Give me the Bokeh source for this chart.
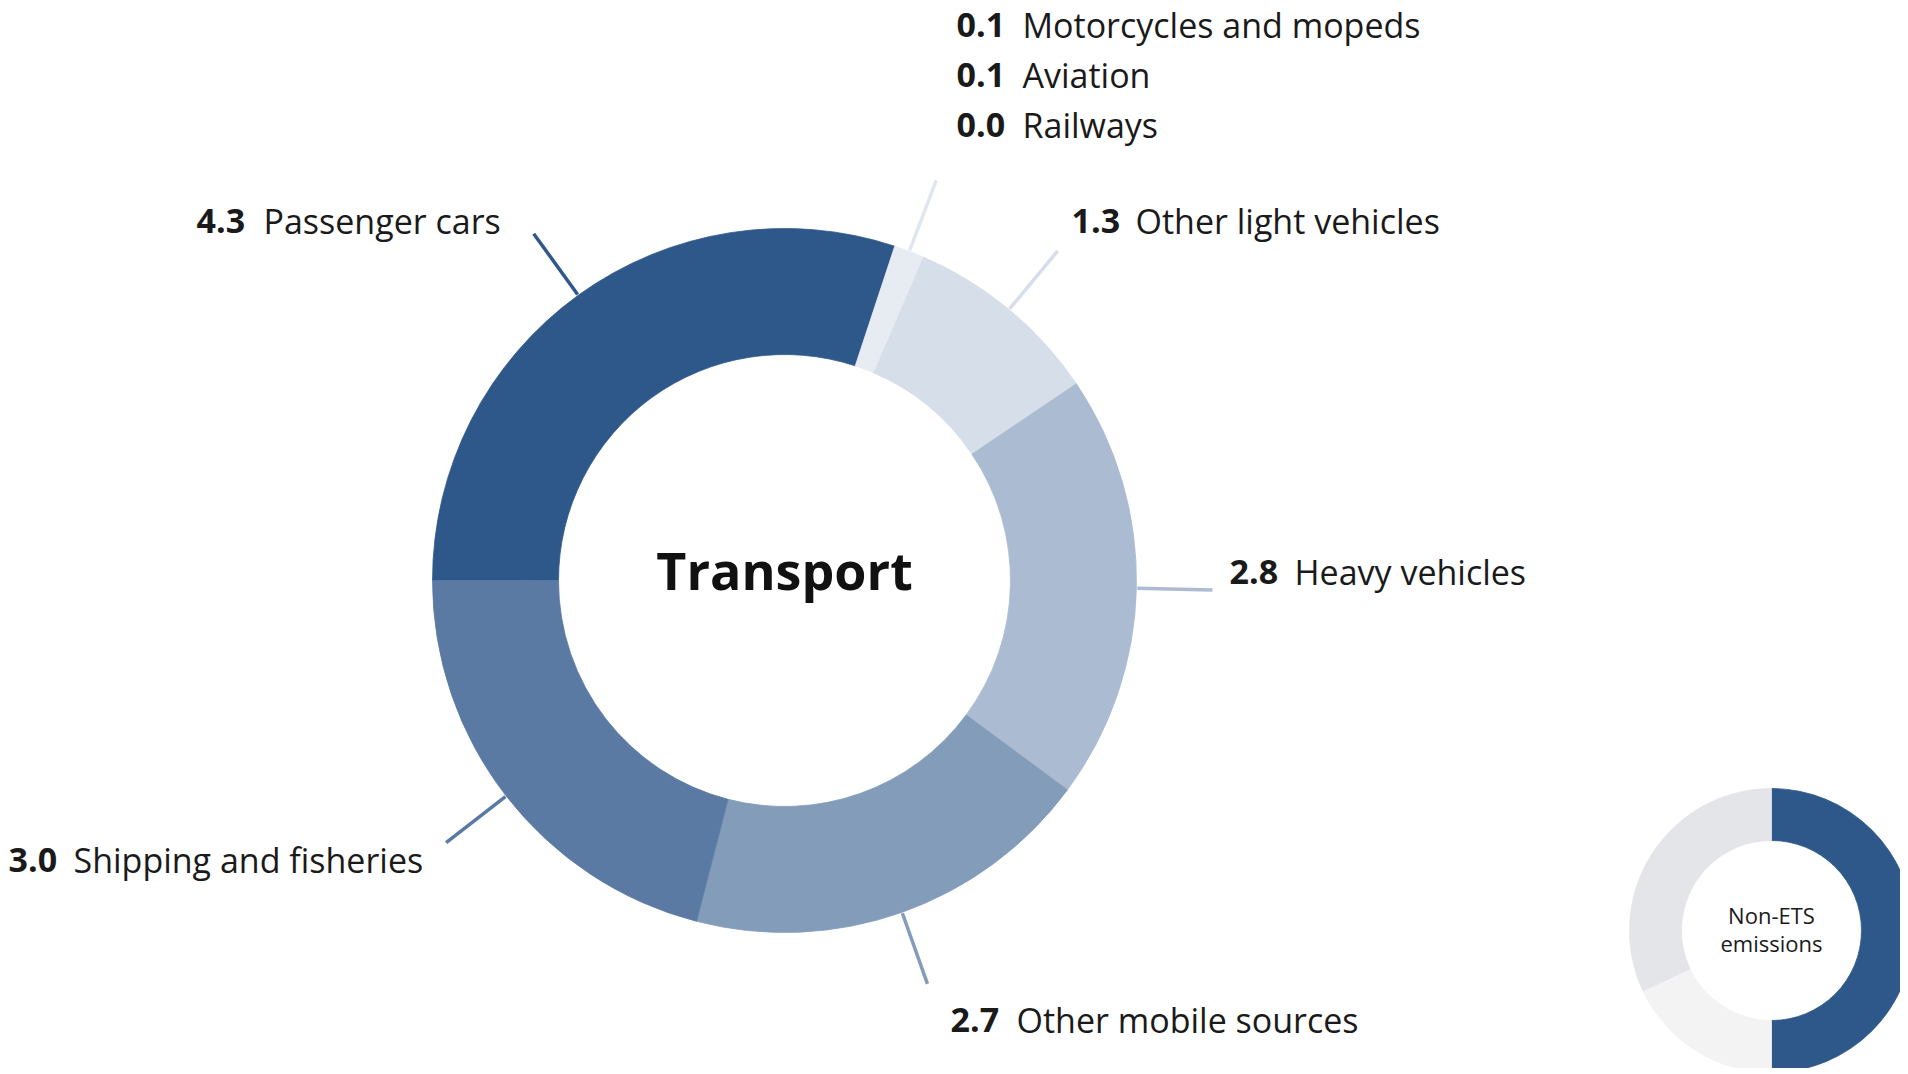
import math
from bokeh.plotting import figure
from bokeh.models import Range1d, ColumnDataSource
from bokeh.core.properties import value
from bokeh.embed import file_html
from bokeh.resources import INLINE

# ---------------- data ----------------
categories = ["Passenger cars", "Motorcycles and mopeds", "Aviation", "Railways",
              "Other light vehicles", "Heavy vehicles", "Other mobile sources",
              "Shipping and fisheries"]
values = [4.3, 0.1, 0.1, 0.0, 1.3, 2.8, 2.7, 3.0]
slice_colors = ["#2e5889", "#e7ecf2", "#e7ecf2", "#e7ecf2",
                "#d6dee9", "#abbcd2", "#839cba", "#5a7aa3"]

# small reference donut: share of non-ETS emissions
small_parts = ["Transport", "Other sectors (a)", "Other sectors (b)"]
small_shares = [50, 18, 32]
small_colors = ["#2e5889", "#f3f3f4", "#e4e5e8"]

center_title = "Transport"
small_title = ["Non-ETS", "emissions"]

# ---------------- layout ----------------
W, H = 1900, 1068
FONT = value("Open Sans")


def sy(y):  # screen y (page px) -> data y
    return 1074 - y


p = figure(width=W, height=H, output_backend="svg", toolbar_location=None,
           x_range=Range1d(0, W), y_range=Range1d(1074 - H, 1074),
           min_border=0, outline_line_color=None, background_fill_color="white",
           border_fill_color="white")
p.axis.visible = False
p.grid.visible = False

CX, CY = 784, sy(580)
R_OUT, R_IN = 352, 226

total = sum(values)
starts, ends = [], []
cum = 0.0
for v in values:
    a0 = math.pi - 2 * math.pi * cum / total
    cum += v
    a1 = math.pi - 2 * math.pi * cum / total
    starts.append(a0)
    ends.append(a1)

keep = [i for i, v in enumerate(values) if v > 0]
src = ColumnDataSource(dict(
    x=[CX] * len(keep), y=[CY] * len(keep),
    start=[ends[i] for i in keep], end=[starts[i] for i in keep],
    color=[slice_colors[i] for i in keep],
    name=[categories[i] for i in keep]))
p.annular_wedge(x="x", y="y", inner_radius=R_IN, outer_radius=R_OUT,
                start_angle="start", end_angle="end", fill_color="color",
                line_color="color", line_width=0.8, source=src)

# leader lines (the three small categories share one)
groups = [[0], [1, 2, 3], [4], [5], [6], [7]]
lead_colors = ["#2e5889", "#e0e6ee", "#d6dee9", "#abbcd2", "#839cba", "#5a7aa3"]
L0, L1 = R_OUT + 1, R_OUT + 76
lx0, ly0, lx1, ly1 = [], [], [], []
for g in groups:
    a = (starts[g[0]] + ends[g[-1]]) / 2
    lx0.append(CX + L0 * math.cos(a)); ly0.append(CY + L0 * math.sin(a))
    lx1.append(CX + L1 * math.cos(a)); ly1.append(CY + L1 * math.sin(a))
p.segment(x0=lx0, y0=ly0, x1=lx1, y1=ly1, line_color=lead_colors,
          line_width=3.5, line_cap="butt")

# labels: (number x, text x, baseline y) in page px
LAB_SHIFT = 13  # compensates the renderer's baseline placement
label_pos = [(196, 263, 233), (956, 1022, 37), (956, 1022, 87), (956, 1022, 137),
             (1071, 1135, 233), (1229, 1294, 584), (950, 1016, 1032), (8, 73, 872)]
num_src = ColumnDataSource(dict(
    x=[lp[0] for lp in label_pos], y=[sy(lp[2] - LAB_SHIFT) for lp in label_pos],
    t=[f"{v:.1f}" for v in values]))
txt_src = ColumnDataSource(dict(
    x=[lp[1] for lp in label_pos], y=[sy(lp[2] - LAB_SHIFT) for lp in label_pos],
    t=categories))
p.text(x="x", y="y", text="t", source=num_src, text_font=FONT,
       text_font_size="34px", text_font_style="bold", text_color="#1a1a1a",
       text_align="left", text_baseline="alphabetic")
p.text(x="x", y="y", text="t", source=txt_src, text_font=FONT,
       text_font_size="34px", text_color="#1a1a1a",
       text_align="left", text_baseline="alphabetic")

p.text(x=[CX], y=[sy(592 - 23)], text=[center_title], text_font=FONT,
       text_font_size="52px", text_font_style="bold", text_color="#111111",
       text_align="center", text_baseline="alphabetic")

# small donut
SX, SY = 1771, sy(930)
sr_out, sr_in = 142, 90
s_total = sum(small_shares)
s_start, s_end = [], []
cum = 0.0
for v in small_shares:
    a0 = math.pi / 2 - 2 * math.pi * cum / s_total
    cum += v
    a1 = math.pi / 2 - 2 * math.pi * cum / s_total
    s_start.append(a1)
    s_end.append(a0)
p.annular_wedge(x=[SX] * 3, y=[SY] * 3, inner_radius=sr_in, outer_radius=sr_out,
                start_angle=s_start, end_angle=s_end, fill_color=small_colors,
                line_color=small_colors, line_width=0.8)
p.text(x=[SX, SX], y=[sy(924 - 10), sy(952 - 10)], text=small_title, text_font=FONT,
       text_font_size="22px", text_color="#1a1a1a", text_align="center",
       text_baseline="alphabetic")

open("out.html", "w").write(file_html(p, INLINE))
